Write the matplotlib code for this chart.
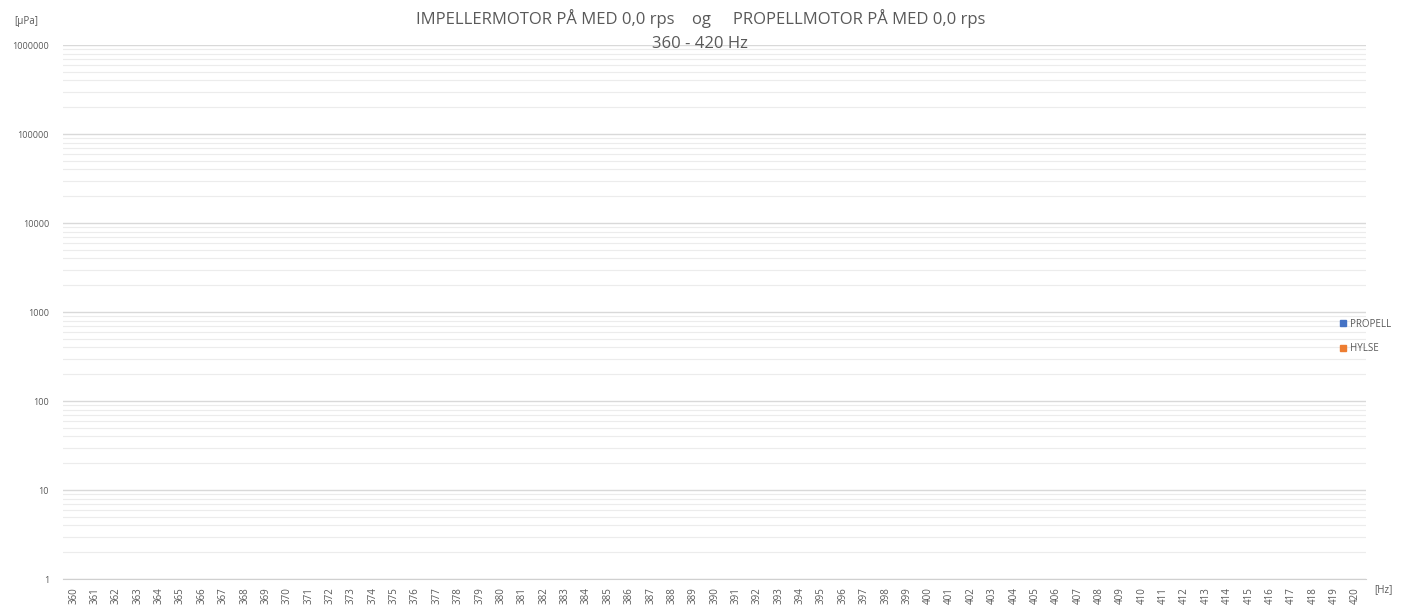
# Frequency spectrum 360 - 420 Hz, both motors at 0,0 rps (no signal)

import numpy as np
import matplotlib.pyplot as plt
from matplotlib.ticker import FixedLocator, NullFormatter

plt.rcParams['font.family'] = ['Open Sans', 'DejaVu Sans']

# data
freqs = list(range(360, 421))
propell = [0] * len(freqs)   # all readings zero
hylse = [0] * len(freqs)     # all readings zero
y_ticks = [1, 10, 100, 1000, 10000, 100000, 1000000]

# colours
c_prop = '#4472C4'
c_hyl = '#ED7D31'
grey = '#595959'

fig = plt.figure(figsize=(14.09, 6.14), dpi=100)
ax = fig.add_axes([0.0447, 0.057, 0.925, 0.8697])

x = np.arange(len(freqs))
w = 0.35
ax.bar(x - w / 2, propell, width=w, color=c_prop, label='PROPELL')
ax.bar(x + w / 2, hylse, width=w, color=c_hyl, label='HYLSE')

ax.set_yscale('log')
ax.set_ylim(1, 1000000)
ax.set_xlim(-0.5, len(freqs) - 0.5)

ax.yaxis.set_major_locator(FixedLocator(y_ticks))
ax.set_yticklabels([str(v) for v in y_ticks])
minor = [m * 10 ** e for e in range(0, 6) for m in range(2, 10)]
ax.yaxis.set_minor_locator(FixedLocator(minor))
ax.yaxis.set_minor_formatter(NullFormatter())

ax.set_xticks(x)
ax.set_xticklabels([str(f) for f in freqs], rotation=90)

ax.grid(which='major', axis='y', color='#d9d9d9', linewidth=1.0)
ax.grid(which='minor', axis='y', color='#ececec', linewidth=0.8)
ax.set_axisbelow(True)

for s in ['top', 'right', 'left']:
    ax.spines[s].set_visible(False)
ax.spines['bottom'].set_color('#d0d0d0')
ax.tick_params(axis='both', which='both', length=0, colors=grey)
ax.tick_params(axis='y', labelsize=6.5, pad=10)
ax.tick_params(axis='x', labelsize=7, pad=6)

# title
fig.text(0.497, 0.97, 'IMPELLERMOTOR PÅ MED 0,0 rps    og     PROPELLMOTOR PÅ MED 0,0 rps',
         ha='center', va='center', fontsize=12, color=grey)
fig.text(0.497, 0.928, '360 - 420 Hz', ha='center', va='center', fontsize=12, color=grey)

# unit labels
fig.text(0.0185, 0.965, '[µPa]', ha='center', va='center', fontsize=7, color=grey)
fig.text(0.982, 0.04, '[Hz]', ha='center', va='center', fontsize=7, color=grey)

# legend
fig.legend(handles=[plt.Rectangle((0, 0), 1, 1, color=c_prop),
                    plt.Rectangle((0, 0), 1, 1, color=c_hyl)],
           labels=['PROPELL', 'HYLSE'], loc='center left',
           bbox_to_anchor=(0.945, 0.452), frameon=False, fontsize=7,
           handlelength=0.6, handleheight=0.6, handletextpad=0.4,
           labelspacing=1.4, labelcolor=grey)

fig.savefig('out.png', dpi=100)
